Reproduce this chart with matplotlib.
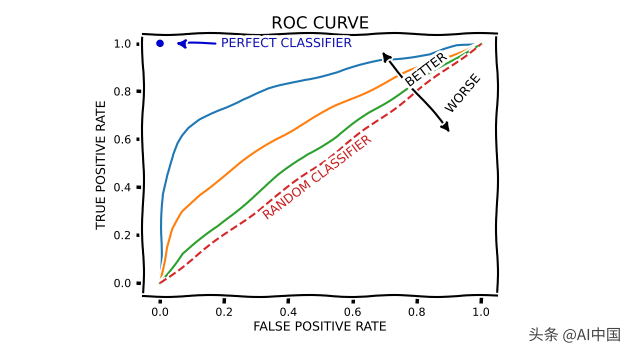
import numpy as np
import matplotlib
matplotlib.use("Agg")
import matplotlib.pyplot as plt

# Data
blue_x = [0.0, 0.002, 0.005, 0.01, 0.02, 0.03, 0.04, 0.055, 0.07, 0.09, 0.125, 0.18, 0.26, 0.34, 0.45, 0.55, 0.685, 0.84, 0.925, 0.99, 1.0]
blue_y = [0.0, 0.08, 0.22, 0.37, 0.45, 0.50, 0.54, 0.585, 0.615, 0.645, 0.68, 0.72, 0.77, 0.81, 0.85, 0.88, 0.93, 0.955, 0.99, 1.0, 1.0]
orange_x = [0.0, 0.005, 0.02, 0.04, 0.07, 0.125, 0.18, 0.26, 0.36, 0.45, 0.55, 0.66, 0.77, 0.85, 0.965, 1.0]
orange_y = [0.0, 0.04, 0.15, 0.225, 0.295, 0.37, 0.43, 0.51, 0.60, 0.67, 0.74, 0.81, 0.88, 0.925, 0.98, 1.0]
green_x = [0.0, 0.07, 0.18, 0.28, 0.37, 0.46, 0.55, 0.65, 0.78, 0.86, 0.965, 1.0]
green_y = [0.0, 0.125, 0.235, 0.35, 0.45, 0.54, 0.61, 0.71, 0.82, 0.89, 0.975, 1.0]
random_x = [0.0, 1.0]
random_y = [0.0, 1.0]
ticks = [0.0, 0.2, 0.4, 0.6, 0.8, 1.0]
tick_labels = ["0.0", "0.2", "0.4", "0.6", "0.8", "1.0"]

plt.xkcd(scale=1, length=100, randomness=2)
plt.rcParams['font.family'] = ['DejaVu Sans']

fig = plt.figure(figsize=(6.4, 3.54), dpi=100)
ax = fig.add_axes([143/640, 1 - 296/354, (497-143)/640, (296-34)/354])

ax.plot(blue_x, blue_y, color='#1f77b4', lw=1.5)
ax.plot(orange_x, orange_y, color='#ff7f0e', lw=1.5)
ax.plot(green_x, green_y, color='#2ca02c', lw=1.5)
ax.plot(random_x, random_y, color='#d62728', lw=1.5, ls='--')

ax.plot([0.0], [1.0], 'o', color='#0000cc', ms=4)
ax.annotate('PERFECT CLASSIFIER', xy=(0.04, 1.0), xytext=(0.19, 1.0),
            color='#1010b0', fontsize=9, va='center', ha='left',
            arrowprops=dict(arrowstyle='-|>', color='#0000cc', lw=1.5,
                            mutation_scale=14))

ax.annotate('', xy=(0.685, 0.975), xytext=(0.91, 0.62),
            arrowprops=dict(arrowstyle='<|-|>', color='black', lw=1.5,
                            mutation_scale=14))
ax.text(0.83, 0.89, 'BETTER', rotation=37, fontsize=9, ha='center', va='center')
ax.text(0.945, 0.79, 'WORSE', rotation=50, fontsize=9, ha='center', va='center')
ax.text(0.49, 0.44, 'RANDOM CLASSIFIER', rotation=37, fontsize=9,
        color='#c81e1e', ha='center', va='center')

ax.set_xlim(-0.053, 1.05)
ax.set_ylim(-0.054, 1.04)
ax.set_xticks(ticks)
ax.set_xticklabels(tick_labels, fontsize=8)
ax.set_yticks(ticks)
ax.set_yticklabels(tick_labels, fontsize=8)
ax.tick_params(length=5, width=2.5)
ax.set_title('ROC CURVE', fontsize=12, pad=4)
ax.set_xlabel('FALSE POSITIVE RATE', fontsize=9, labelpad=2)
ax.set_ylabel('TRUE POSITIVE RATE', fontsize=9, labelpad=4)

fig.text(0.898, 0.052, '头条 @AI中国', fontsize=11, color='#444444',
         ha='center', va='center', family=['Noto Sans CJK SC', 'DejaVu Sans'])

fig.savefig('out.png', dpi=100)
